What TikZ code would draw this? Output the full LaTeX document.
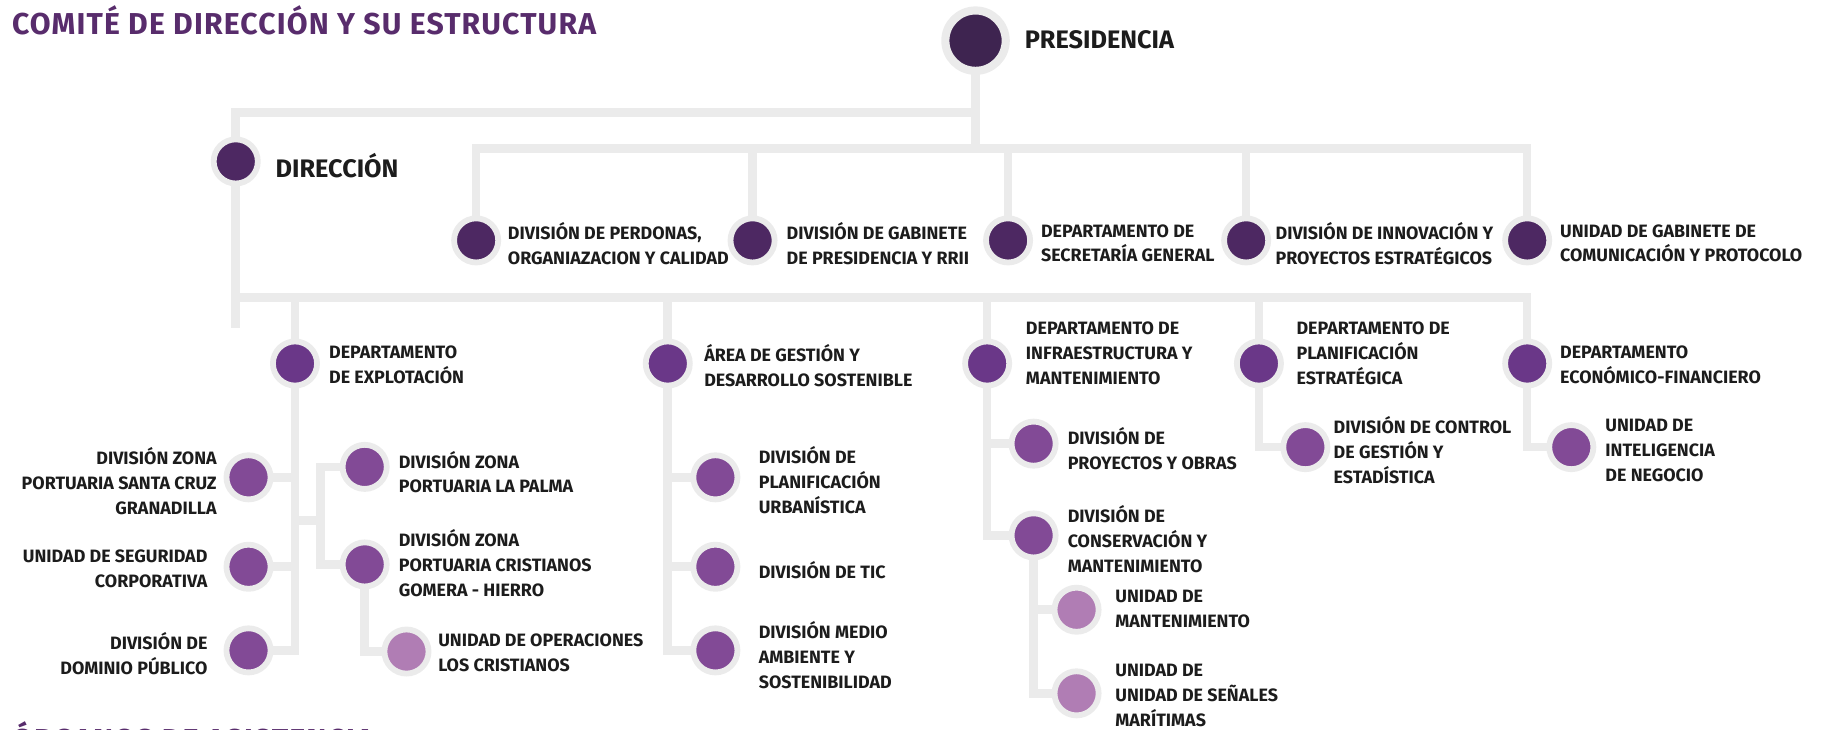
\documentclass[tikz,border=0pt]{standalone}
\usepackage{fontspec}
\setmainfont{Fira Sans}
\usetikzlibrary{backgrounds}
\definecolor{ringgray}{HTML}{EBEBEB}
\definecolor{titlepurple}{HTML}{582C6C}
\definecolor{presfill}{HTML}{3E2450}
\definecolor{lvlA}{HTML}{4D2862}
\definecolor{lvlB}{HTML}{6A3788}
\definecolor{lvlC}{HTML}{824A96}
\definecolor{lvlD}{HTML}{B07DB4}
\definecolor{inkgray}{HTML}{1C1C1C}
\begin{document}
\begin{tikzpicture}[x=0.5pt,y=-0.5pt]
\tikzstyle{vertex}=[circle,draw=ringgray,line width=2.5pt,minimum size=19pt,inner sep=0pt]
\tikzstyle{bigvertex}=[vertex,line width=3.5pt,minimum size=26pt]
\tikzstyle{wire}=[draw=ringgray,line width=3.7pt,line cap=rect]
\tikzstyle{lbl}=[inner sep=0pt,text=inkgray,font=\bfseries\fontsize{7.7}{10.75}\selectfont,align=left,anchor=west]
\tikzstyle{lblr}=[lbl,align=right,anchor=east]
\tikzstyle{toplbl}=[lbl,font=\bfseries\fontsize{10.9}{13}\selectfont]
\tikzstyle{heading}=[inner sep=0pt,text=titlepurple,font=\bfseries\fontsize{13}{15}\selectfont\addfontfeature{LetterSpace=3.8}]
\useasboundingbox (0,0) rectangle (1568,628);
% headings
\node[heading,anchor=base west] (hcomite) at (10,30) {COMITÉ DE DIRECCIÓN Y SU ESTRUCTURA};
\node[heading,anchor=north west] (horganos) at (10,621) {ÓRGANOS DE ASISTENCIA};
% circles
\node[bigvertex,fill=presfill] (pres) at (840,35) {};
\foreach \place/\name/\tone in {{(203,139)/dir/lvlA},
                                {(410,207)/perso/lvlA},
                                {(648,207)/gabi/lvlA},
                                {(868,207)/secre/lvlA},
                                {(1073,207)/innov/lvlA},
                                {(1315,207)/comu/lvlA},
                                {(254,313)/explo/lvlB},
                                {(575,313)/gest/lvlB},
                                {(850,313)/infra/lvlB},
                                {(1084,313)/plan/lvlB},
                                {(1315,313)/econ/lvlB},
                                {(214,411)/zsc/lvlC},
                                {(214,488)/segu/lvlC},
                                {(214,560)/domi/lvlC},
                                {(314,402)/zlp/lvlC},
                                {(314,486)/zcg/lvlC},
                                {(350,561)/oper/lvlD},
                                {(616,411)/purb/lvlC},
                                {(616,488)/tic/lvlC},
                                {(616,560)/medio/lvlC},
                                {(890,382)/proy/lvlC},
                                {(890,461)/cons/lvlC},
                                {(927,525)/mant/lvlD},
                                {(927,597)/senal/lvlD},
                                {(1124,385)/ctrl/lvlC},
                                {(1353,385)/intel/lvlC}}
  \node[vertex,fill=\tone] (\name) at \place {};
% labels
\node[toplbl] (tpres) at (882,34) {PRESIDENCIA};
\node[toplbl] (tdir) at (237,143) {DIRECCIÓN};
\foreach \place/\name/\txt in {{(437,209.5)/tperso/DIVISIÓN DE PERDONAS,\\ORGANIAZACION Y CALIDAD},
                               {(677,209.5)/tgabi/DIVISIÓN DE GABINETE\\DE PRESIDENCIA Y RRII},
                               {(896,209.5)/tsecre/DEPARTAMENTO DE\\SECRETARÍA GENERAL},
                               {(1098,209.5)/tinnov/DIVISIÓN DE INNOVACIÓN Y\\PROYECTOS ESTRATÉGICOS},
                               {(1343,209.5)/tcomu/UNIDAD DE GABINETE DE\\COMUNICACIÓN Y PROTOCOLO},
                               {(283,314.5)/texplo/DEPARTAMENTO\\DE EXPLOTACIÓN},
                               {(606,314.5)/tgest/ÁREA DE GESTIÓN Y\\DESARROLLO SOSTENIBLE},
                               {(883,304)/tinfra/DEPARTAMENTO DE\\INFRAESTRUCTURA Y\\MANTENIMIENTO},
                               {(1116,304)/tplan/DEPARTAMENTO DE\\PLANIFICACIÓN\\ESTRATÉGICA},
                               {(1343,314.5)/tecon/DEPARTAMENTO\\ECONÓMICO-FINANCIERO},
                               {(343,406.5)/tzlp/DIVISIÓN ZONA\\PORTUARIA LA PALMA},
                               {(343,485)/tzcg/DIVISIÓN ZONA\\PORTUARIA CRISTIANOS\\GOMERA - HIERRO},
                               {(377,562.5)/toper/UNIDAD DE OPERACIONES\\LOS CRISTIANOS},
                               {(653,413)/tpurb/DIVISIÓN DE\\PLANIFICACIÓN\\URBANÍSTICA},
                               {(653,491)/ttic/DIVISIÓN DE TIC},
                               {(653,564)/tmedio/DIVISIÓN MEDIO\\AMBIENTE Y\\SOSTENIBILIDAD},
                               {(919,386)/tproy/DIVISIÓN DE\\PROYECTOS Y OBRAS},
                               {(919,464)/tcons/DIVISIÓN DE\\CONSERVACIÓN Y\\MANTENIMIENTO},
                               {(960,524.5)/tmant/UNIDAD DE\\MANTENIMIENTO},
                               {(960,599)/tsenal/UNIDAD DE\\UNIDAD DE SEÑALES\\MARÍTIMAS},
                               {(1148,387.5)/tctrl/DIVISIÓN DE CONTROL\\DE GESTIÓN Y\\ESTADÍSTICA},
                               {(1382,387.5)/tintel/UNIDAD DE\\INTELIGENCIA\\DE NEGOCIO}}
  \node[lbl] (\name) at \place {\txt};
\foreach \place/\name/\txt in {{(187,414)/tzsc/DIVISIÓN ZONA\\PORTUARIA SANTA CRUZ\\GRANADILLA},
                               {(179,489.5)/tsegu/UNIDAD DE SEGURIDAD\\CORPORATIVA},
                               {(179,562.5)/tdomi/DIVISIÓN DE\\DOMINIO PÚBLICO}}
  \node[lblr] (\name) at \place {\txt};
% connectors
\begin{scope}[on background layer]
  \coordinate (jDir) at (203,97);
  \coordinate (jTop) at (840,128);
  \coordinate (jDept) at (203,256);
  \coordinate (dirEnd) at (203,279);
  \coordinate (jZona) at (276,448);
  \path[wire] (pres) |- (jDir) -- (dir) -- (dirEnd);
  \path[wire] (pres) -- (jTop);
  \path[wire] (perso |- jTop) -- (comu |- jTop);
  \foreach \dest in {perso,gabi,secre,innov,comu}
    \path[wire] (\dest |- jTop) -- (\dest);
  \path[wire] (jDept) -- (econ |- jDept);
  \foreach \dest in {explo,gest,infra,plan,econ}
    \path[wire] (\dest |- jDept) -- (\dest);
  \foreach \source/\dest in {explo/domi,gest/medio,infra/cons,cons/senal,plan/ctrl,econ/intel,zcg/oper}
    \path[wire] (\source) |- (\dest);
  \foreach \source/\dest in {explo/zsc,explo/segu,gest/purb,gest/tic,infra/proy,cons/mant}
    \path[wire] (\dest) -- (\dest -| \source);
  \path[wire] (explo |- jZona) -- (jZona);
  \foreach \dest in {zlp,zcg}
    \path[wire] (\dest) -| (jZona);
\end{scope}
\end{tikzpicture}
\end{document}
